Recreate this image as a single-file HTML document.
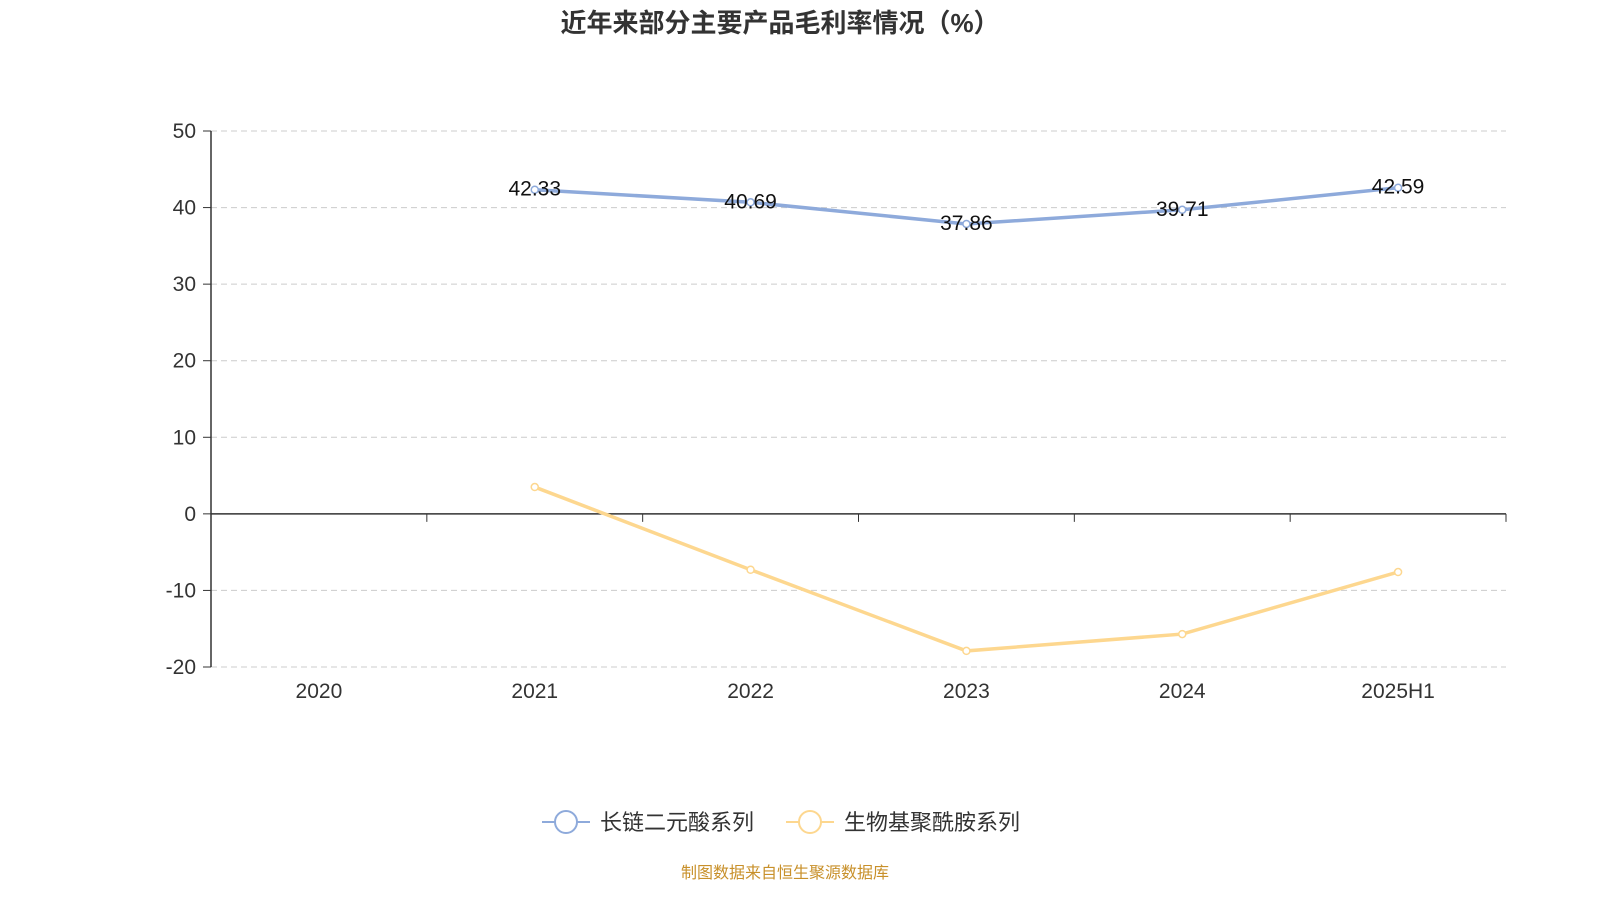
<!DOCTYPE html>
<html><head><meta charset="utf-8">
<style>
body{margin:0;background:#fff;}
svg{display:block;font-family:"Liberation Sans","Noto Sans CJK SC",sans-serif;}
</style></head>
<body>
<svg id="chart" width="1600" height="900">
<text x="780" y="32" text-anchor="middle" font-size="26" font-weight="bold" fill="#333">近年来部分主要产品毛利率情况（%）</text>
<g id="grid"></g><g id="axes"></g><g id="series"></g>
<g>
<g>
<line x1="542" y1="822" x2="590" y2="822" stroke="#8eaadb" stroke-width="2"/>
<circle cx="566" cy="822" r="11" fill="#fff" stroke="#8eaadb" stroke-width="2"/>
<text x="600" y="830" font-size="22" fill="#333">长链二元酸系列</text></g>
<g>
<line x1="786" y1="822" x2="834" y2="822" stroke="#fdd78f" stroke-width="2"/>
<circle cx="810" cy="822" r="11" fill="#fff" stroke="#fdd78f" stroke-width="2"/>
<text x="844" y="830" font-size="22" fill="#333">生物基聚酰胺系列</text></g>
</g>
<text x="785" y="878" text-anchor="middle" font-size="16" fill="#c8902a">制图数据来自恒生聚源数据库</text>
</svg>
<script>
const categories=["2020","2021","2022","2023","2024","2025H1"];
const seriesA=[null,42.33,40.69,37.86,39.71,42.59];
const seriesB=[null,3.5,-7.3,-17.9,-15.7,-7.6];
const yTicks=[50,40,30,20,10,0,-10,-20];
const NS="http://www.w3.org/2000/svg";
const L=211,R=1506,T=131,B=667,ymax=50,ymin=-20;
const y=v=>T+(ymax-v)/(ymax-ymin)*(B-T);
const bw=(R-L)/categories.length;
const x=i=>L+bw*(i+0.5);
function mk(p,tag,a){const e=document.createElementNS(NS,tag);for(const k in a)e.setAttribute(k,a[k]);p.appendChild(e);return e;}
const grid=document.getElementById('grid'),axes=document.getElementById('axes'),ser=document.getElementById('series');
yTicks.forEach(t=>{
 if(t!==0){const g=mk(grid,'line',{x1:L,x2:R,y1:y(t),y2:y(t),stroke:'#ccc','stroke-dasharray':'6,4'});
 
 }
 mk(axes,'line',{x1:L-8,x2:L,y1:y(t),y2:y(t),stroke:'#333'});
 const tx=mk(axes,'text',{x:L-15,y:y(t)+7,'text-anchor':'end','font-size':21,fill:'#333'});tx.textContent=t;
 
 
});
mk(axes,'line',{x1:L,x2:L,y1:T,y2:B,stroke:'#333','stroke-width':1.5});
mk(axes,'line',{x1:L,x2:R,y1:y(0),y2:y(0),stroke:'#333','stroke-width':1.5});
for(let i=0;i<=categories.length;i++)mk(axes,'line',{x1:L+bw*i,x2:L+bw*i,y1:y(0),y2:y(0)+8,stroke:'#333'});
categories.forEach((c,i)=>{const t=mk(axes,'text',{x:x(i),y:698,'text-anchor':'middle','font-size':21,fill:'#333'});t.textContent=c;
 
 });
function draw(vals,color,name,labels){
 let d='';vals.forEach((v,i)=>{if(v===null)return;d+=(d?'L':'M')+x(i)+','+y(v);});
 const p=mk(ser,'path',{d:d,fill:'none',stroke:color,'stroke-width':3.5});
 
 
 vals.forEach((v,i)=>{if(v===null)return;
  const c=mk(ser,'circle',{cx:x(i),cy:y(v),r:3.5,fill:'#fff',stroke:color,'stroke-width':1.5});
  
  
  if(labels){const t=mk(ser,'text',{x:x(i),y:y(v)+6,'text-anchor':'middle','font-size':21,fill:'#111'});t.textContent=v.toFixed(2);
   
   }
 });
}
draw(seriesA,'#8eaadb','long-chain-acid',true);
draw(seriesB,'#fdd78f','bio-polyamide',false);
</script>
</body></html>
